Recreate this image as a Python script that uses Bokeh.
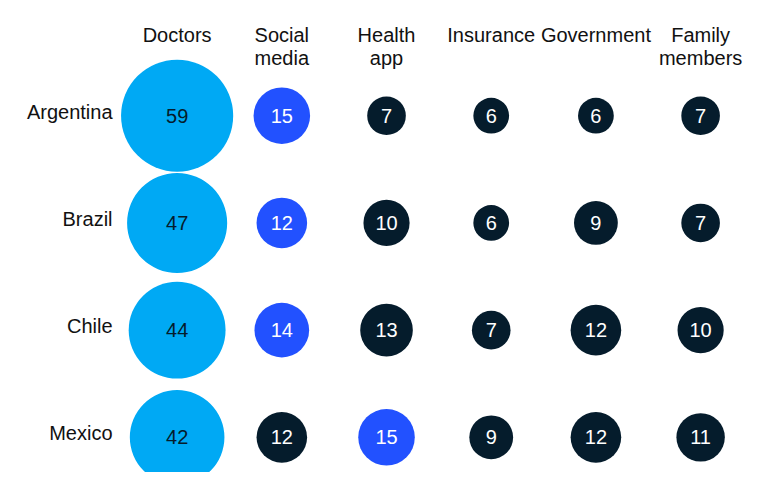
from bokeh.plotting import figure
from bokeh.models import Range1d, ColumnDataSource
from bokeh.core.properties import value
from bokeh.embed import file_html
from bokeh.resources import INLINE
import math

countries = ["Argentina", "Brazil", "Chile", "Mexico"]
channels = ["Doctors", "Social\nmedia", "Health\napp", "Insurance", "Government", "Family\nmembers"]

argentina = [59, 15, 7, 6, 6, 7]
brazil = [47, 12, 10, 6, 9, 7]
chile = [44, 14, 13, 7, 12, 10]
mexico = [42, 12, 15, 9, 12, 11]
rows = [argentina, brazil, chile, mexico]

LIGHT = "#00A9F4"
BLUE = "#2251FF"
NAVY = "#051C2C"
FONT = value("Liberation Sans")

xs, ys, sizes, fills, tcols, labels = [], [], [], [], [], []
for j, row in enumerate(rows):
    ranked = sorted(row, reverse=True)
    for i, v in enumerate(row):
        xs.append(i)
        ys.append(j)
        labels.append(str(v))
        sizes.append(14.6 * math.sqrt(v))
        if v == ranked[0]:
            fills.append(LIGHT)
            tcols.append(NAVY)
        elif v == ranked[1] and i == row.index(ranked[1]):
            fills.append(BLUE)
            tcols.append("white")
        else:
            fills.append(NAVY)
            tcols.append("white")

src = ColumnDataSource(dict(x=xs, y=ys, size=sizes, fill=fills, tcol=tcols, label=labels))

p = figure(width=751, height=472, output_backend="svg", toolbar_location=None,
           x_range=Range1d(-1.687, 5.486), y_range=Range1d(3.328, -1.075),
           min_border=0, background_fill_color="white", border_fill_color="white")
p.axis.visible = False
p.grid.visible = False
p.outline_line_color = None

p.scatter("x", "y", size="size", fill_color="fill", line_color=None, marker="circle", source=src)
p.text("x", "y", text="label", text_color="tcol", text_align="center", text_baseline="middle",
       text_font=FONT, text_font_size="20px", source=src)

p.text(x=list(range(len(channels))), y=[-0.856] * len(channels), text=channels,
       text_align="center", text_baseline="top", text_font=FONT, text_font_size="20px",
       text_line_height=1.05, text_color="#111111")

p.text(x=[-0.617] * len(countries), y=list(range(len(countries))), text=countries,
       text_align="right", text_baseline="middle", y_offset=-4,
       text_font=FONT, text_font_size="20px", text_color="#111111")

open("out.html", "w").write(file_html(p, INLINE))
